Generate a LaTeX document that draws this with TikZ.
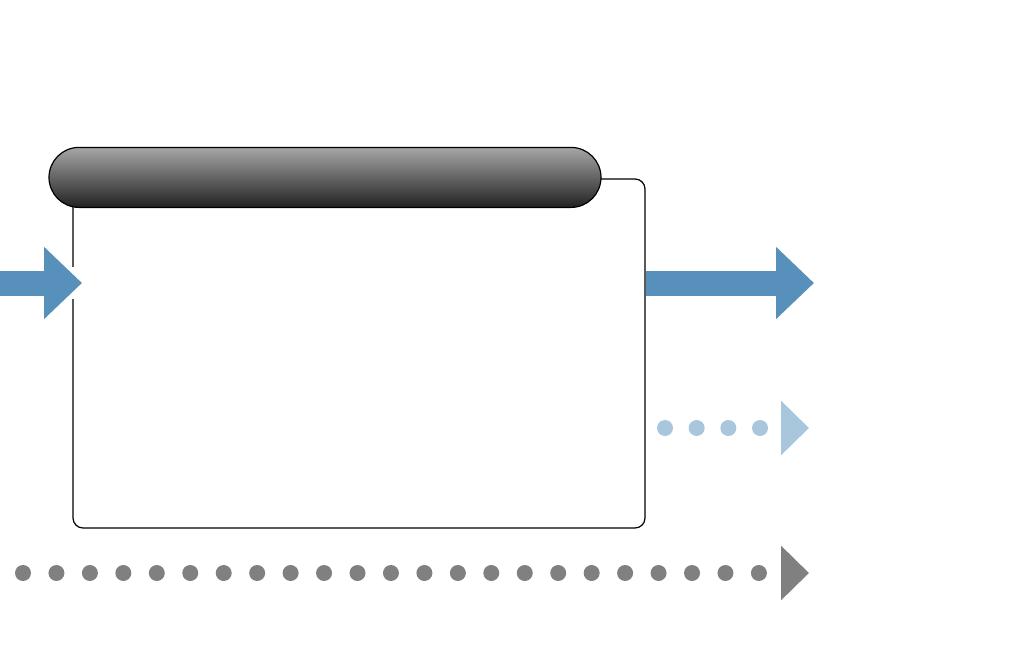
\documentclass[tikz,border=0pt]{standalone}
\usepackage{tikz}
\usetikzlibrary{arrows.meta, positioning, calc}
\definecolor{flowblue}{RGB}{87, 144, 187}
\definecolor{flowlight}{RGB}{169, 199, 220}
\definecolor{flowgray}{RGB}{128, 128, 128}
\definecolor{titletop}{RGB}{166, 166, 166}
\definecolor{titlebot}{RGB}{34, 34, 34}

\begin{document}
\begin{tikzpicture}[x=1pt, y=-1pt,
  panel/.style={draw=black, line width=1.2pt, rounded corners=10pt,
                minimum width=572pt, minimum height=349pt, inner sep=0pt},
  titlebar/.style={draw=black, line width=1.2pt, rounded corners=30pt,
                   top color=titletop, bottom color=titlebot,
                   minimum width=552pt, minimum height=60pt, inner sep=0pt},
  bigflow/.style={flowblue, line width=25pt,
                  -{Triangle[length=38pt, width=70pt]}},
  dotflow/.style={line width=16pt, line cap=round,
                  dash pattern=on 0pt off #1,
                  -{Triangle[length=28pt, width=53pt]}}
]
  \useasboundingbox (0,0) rectangle (1012,651);

  \node[panel] (box) at (359,353.5) {};
  \node[titlebar] (title) at ($(box.north)+(-34,-1)$) {};

  % flows in and out
  \coordinate (src) at (0,283);
  \coordinate (intip) at (82,283);
  \coordinate (outtip) at (814,283);
  \draw[white, line width=4pt] (73,267) -- (73,299);
  \draw[bigflow] (src) -- (intip);
  \draw[bigflow] (box.east |- outtip) -- (outtip);

  % dotted flows
  \coordinate (lstart) at (665,428);
  \coordinate (lend) at (809,428);
  \draw[dotflow=31.67pt, flowlight] (lstart) -- (lend);
  \coordinate (gstart) at (23,573);
  \coordinate (gend) at (809,573);
  \draw[dotflow=33.45pt, flowgray] (gstart) -- (gend);
\end{tikzpicture}
\end{document}
